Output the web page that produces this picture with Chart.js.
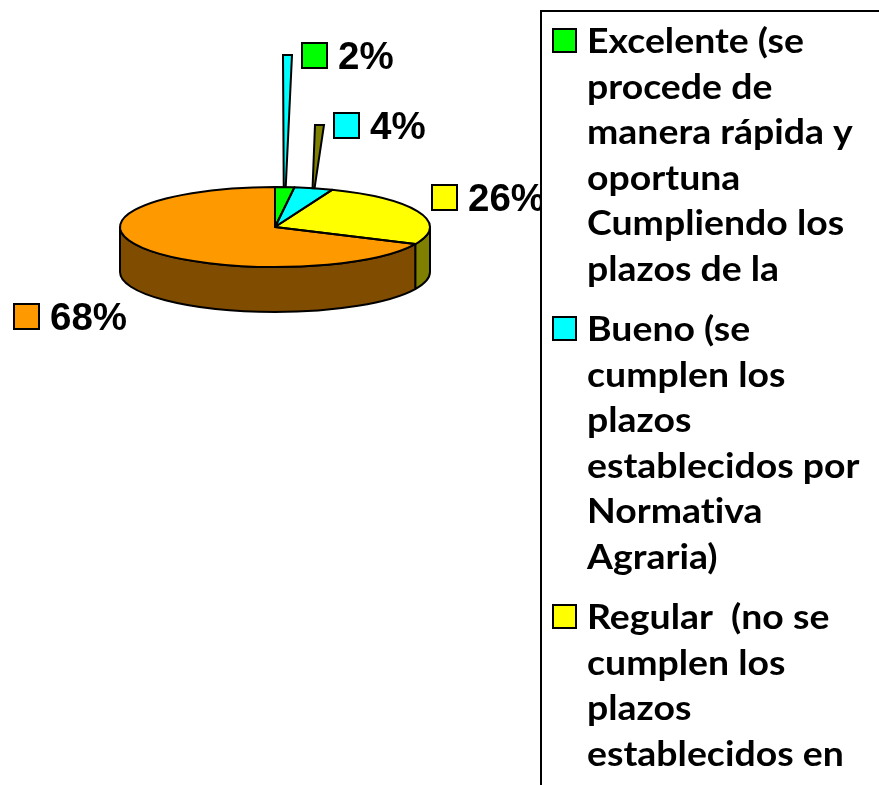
<!DOCTYPE html>
<html>
<head>
<meta charset="utf-8">
<script src="https://cdn.jsdelivr.net/npm/chart.js@4.4.0/dist/chart.umd.min.js"></script>
<style>
  html, body { margin: 0; padding: 0; background: #fff; }
  #wrap { width: 879px; height: 785px; position: relative; }
</style>
</head>
<body>
<div id="wrap"><canvas id="pie"></canvas></div>
<script>
// categories and values
const categories = ['Excelente', 'Bueno', 'Regular', 'Malo'];
const percentages = [2, 4, 26, 68];
const legendLines = [
    ['Excelente (se', 'procede de', 'manera rápida y', 'oportuna', 'Cumpliendo los', 'plazos de la'],
    ['Bueno (se', 'cumplen los', 'plazos', 'establecidos por', 'Normativa', 'Agraria)'],
    ['Regular  (no se', 'cumplen los', 'plazos', 'establecidos en'],
    ['Malo']
];

const topColors = ['#00ff00', '#00ffff', '#ffff00', '#ff9900'];
const sideColors = ['#008000', '#008080', '#808000', '#804c00'];

const TILT = 40 / 155;   // vertical squash of the pie
const DEPTH = 45;        // thickness of the pie

// label square offset from the slice edge point (x, y)
const labelOffsets = [[17, -144], [20, -75], [13, -27], [-130, 56]];
const leaderColors = ['#00ffff', '#808000', null, null];

function drawWall(ctx, cx, cy, r, s, e, color) {
    ctx.beginPath();
    ctx.ellipse(cx, cy, r, r * TILT, 0, s, e, false);
    ctx.ellipse(cx, cy + DEPTH, r, r * TILT, 0, e, s, true);
    ctx.closePath();
    ctx.fillStyle = color;
    ctx.fill();
    ctx.stroke();
}

const pie3d = {
    id: 'pie3d',
    beforeDatasetsDraw(chart) {
        const ctx = chart.ctx;
        const arcs = chart.getDatasetMeta(0).data;
        const cx = arcs[0].x, cy = arcs[0].y, r = arcs[0].outerRadius;
        ctx.save();
        ctx.lineWidth = 2;
        ctx.strokeStyle = '#000';
        ctx.lineJoin = 'round';
        arcs.forEach((arc, i) => {
            for (const off of [0, 2 * Math.PI, -2 * Math.PI]) {
                const s = Math.max(arc.startAngle, off);
                const e = Math.min(arc.endAngle, off + Math.PI);
                if (e > s) drawWall(ctx, cx, cy, r, s, e, sideColors[i]);
            }
        });
        ctx.restore();
        // squash the top face
        ctx.save();
        ctx.translate(0, cy);
        ctx.scale(1, TILT);
        ctx.translate(0, -cy);
    },
    afterDatasetsDraw(chart) {
        const ctx = chart.ctx;
        ctx.restore();
        const arcs = chart.getDatasetMeta(0).data;
        ctx.save();
        ctx.lineWidth = 2;
        ctx.strokeStyle = '#000';
        ctx.lineJoin = 'round';
        arcs.forEach(arc => {
            ctx.beginPath();
            ctx.moveTo(arc.x, arc.y);
            ctx.ellipse(arc.x, arc.y, arc.outerRadius, arc.outerRadius * TILT, 0, arc.startAngle, arc.endAngle, false);
            ctx.closePath();
            ctx.stroke();
        });
        ctx.restore();
    },
    afterDraw(chart) {
        const ctx = chart.ctx;
        const arcs = chart.getDatasetMeta(0).data;
        ctx.save();
        ctx.lineWidth = 2;
        ctx.strokeStyle = '#000';
        ctx.lineJoin = 'miter';

        // data labels with leader wedges
        arcs.forEach((arc, i) => {
            const mid = (arc.startAngle + arc.endAngle) / 2;
            const ex = arc.x + arc.outerRadius * Math.cos(mid);
            const ey = arc.y + arc.outerRadius * TILT * Math.sin(mid);
            const sx = Math.round(ex + labelOffsets[i][0]);
            const sy = Math.round(ey + labelOffsets[i][1]);
            if (leaderColors[i]) {
                const my = sy + 12;
                ctx.beginPath();
                ctx.moveTo(sx - 19, my);
                ctx.lineTo(sx - 10, my);
                ctx.lineTo(ex + 1, ey);
                ctx.lineTo(ex - 1, ey);
                ctx.closePath();
                ctx.fillStyle = leaderColors[i];
                ctx.fill();
                ctx.stroke();
            }
            ctx.fillStyle = topColors[i];
            ctx.fillRect(sx, sy, 25, 25);
            ctx.strokeRect(sx, sy, 25, 25);
            ctx.fillStyle = '#000';
            ctx.font = 'bold 38.5px "Liberation Sans", Arial, sans-serif';
            ctx.textBaseline = 'alphabetic';
            ctx.fillText(percentages[i] + '%', sx + 36, sy + 26);
        });

        // legend box (drawn on top, runs off the canvas)
        const lx = 541, ly = 11;
        ctx.fillStyle = '#fff';
        ctx.fillRect(lx, ly, 400, 800);
        ctx.strokeRect(lx, ly, 400, 800);
        const lineH = 45.5, gap = 15, stretch = 1.1;
        ctx.letterSpacing = '0.01px'; // keeps "ti" from turning into a ligature
        let y = 53;
        legendLines.forEach((lines, i) => {
            ctx.fillStyle = topColors[i];
            ctx.fillRect(553, y - 24, 23, 23);
            ctx.strokeRect(553, y - 24, 23, 23);
            ctx.fillStyle = '#000';
            lines.forEach((t, k) => {
                ctx.save();
                ctx.translate(587, y + k * lineH);
                ctx.scale(stretch, 1);
                ctx.font = 'bold 34px Lato, "Open Sans", sans-serif';
                ctx.fillText(t, 0, 0);
                ctx.restore();
            });
            y += lines.length * lineH + gap;
        });
        ctx.restore();
    }
};

new Chart(document.getElementById('pie'), {
    type: 'pie',
    data: {
        labels: categories,
        datasets: [{
            data: percentages,
            backgroundColor: topColors,
            borderWidth: 0,
            clip: false
        }]
    },
    options: {
        responsive: true,
        maintainAspectRatio: false,
        animation: false,
        events: [],
        layout: { padding: { left: 120, right: 449, top: 72, bottom: 403 } },
        plugins: {
            legend: { display: false },
            tooltip: { enabled: false }
        }
    },
    plugins: [pie3d]
});
</script>
</body>
</html>
